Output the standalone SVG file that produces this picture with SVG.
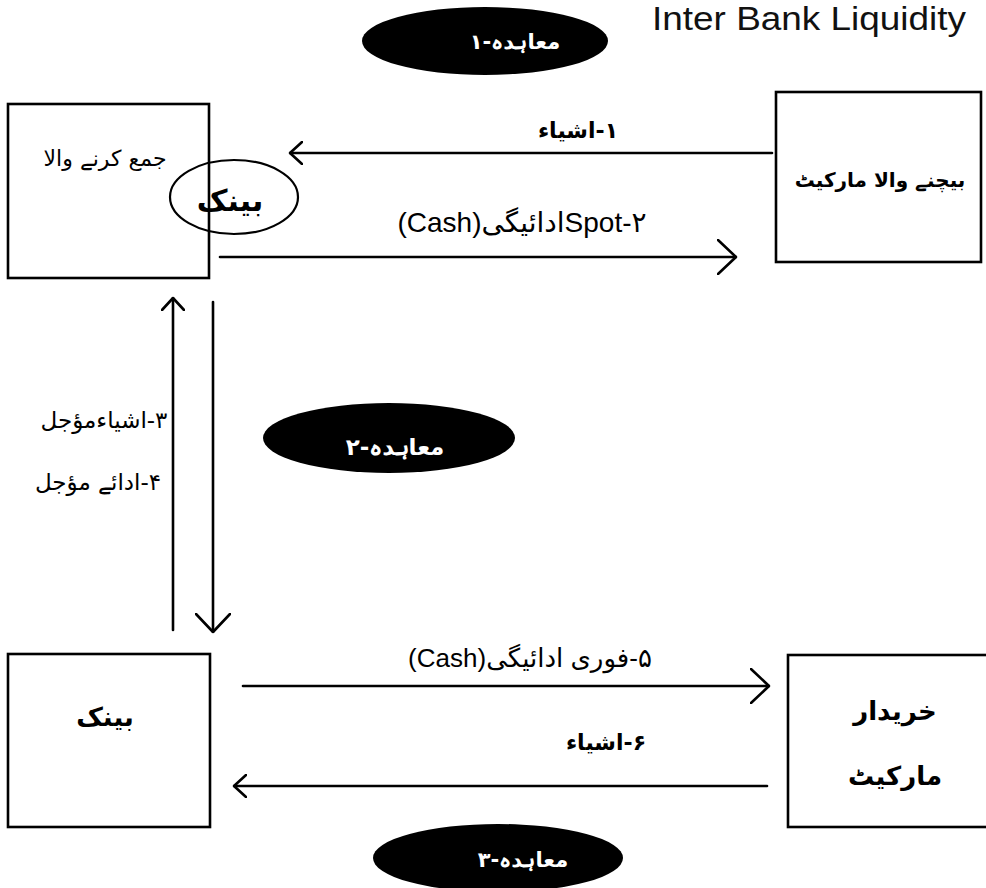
<svg xmlns="http://www.w3.org/2000/svg" width="986" height="888" viewBox="0 0 986 888">
<defs>
<style>
.box{fill:none;stroke:#000;stroke-width:2.6}
.blk{fill:#000}
.ring{fill:none;stroke:#000;stroke-width:2.2}
.ln{fill:none;stroke:#000;stroke-width:2.6;stroke-linecap:round}
.ur{font-family:"DejaVu Sans",sans-serif;fill:#000}
.mx{font-family:"Liberation Sans","DejaVu Sans",sans-serif;fill:#000}
.wt{font-family:"DejaVu Sans",sans-serif;fill:#fff;font-weight:bold}
.ttl{font-family:"Liberation Sans",Arial,sans-serif;fill:#111}
</style>
<marker id="chev-s" viewBox="0 0 14 24" markerUnits="userSpaceOnUse" markerWidth="14" markerHeight="24" refX="13" refY="12" orient="auto">
<path d="M1,1 L13,12 L1,23" fill="none" stroke="#000" stroke-width="2.6" stroke-linecap="round" stroke-linejoin="round"/>
</marker>
<marker id="chev-l" viewBox="0 0 20 36" markerUnits="userSpaceOnUse" markerWidth="20" markerHeight="36" refX="19" refY="18" orient="auto">
<path d="M1,1 L19,18 L1,35" fill="none" stroke="#000" stroke-width="2.6" stroke-linecap="round" stroke-linejoin="round"/>
</marker>
</defs>
<rect width="986" height="888" fill="#fff"/>

<g id="title">
<text class="ttl" x="652" y="30" font-size="33" textLength="314" lengthAdjust="spacingAndGlyphs">Inter Bank Liquidity</text>
</g>

<g id="contract-1">
<ellipse class="blk" cx="485" cy="41" rx="123" ry="34"/>
<text class="wt" x="515" y="49" font-size="21" text-anchor="middle" direction="rtl">معاہدہ-۱</text>
</g>

<g id="collector">
<rect class="box" x="8" y="104" width="201" height="174"/>
<text class="ur" x="105" y="166" font-size="22" text-anchor="middle" direction="rtl">جمع کرنے والا</text>
</g>

<g id="bank-ring">
<ellipse class="ring" cx="234" cy="197" rx="64" ry="37"/>
<text class="ur" x="230" y="211" font-size="30" font-weight="bold" text-anchor="middle" direction="rtl">بینک</text>
</g>

<g id="seller-market">
<rect class="box" x="776" y="92" width="205" height="170"/>
<text class="ur" x="880" y="187" font-size="20" font-weight="bold" text-anchor="middle" direction="rtl">بیچنے والا مارکیٹ</text>
</g>

<g id="contract-2">
<ellipse class="blk" cx="389" cy="438" rx="126" ry="35"/>
<text class="wt" x="395" y="455" font-size="23" text-anchor="middle" direction="rtl">معاہدہ-۲</text>
</g>

<g id="bank">
<rect class="box" x="8" y="654" width="202" height="173"/>
<text class="ur" x="105" y="726" font-size="26" font-weight="bold" text-anchor="middle" direction="rtl">بینک</text>
</g>

<g id="buyer-market">
<rect class="box" x="788" y="655" width="210" height="172"/>
<text class="ur" x="895" y="720" font-size="26" font-weight="bold" text-anchor="middle" direction="rtl">خریدار</text>
<text class="ur" x="895" y="785" font-size="26" font-weight="bold" text-anchor="middle" direction="rtl">مارکیٹ</text>
</g>

<g id="contract-3">
<ellipse class="blk" cx="498" cy="858" rx="125" ry="34"/>
<text class="wt" x="523" y="867" font-size="21" text-anchor="middle" direction="rtl">معاہدہ-۳</text>
</g>

<g id="connectors">
<line class="ln" x1="772" y1="153" x2="290" y2="153" marker-end="url(#chev-s)"/>
<text class="ur" x="578" y="138" font-size="22" font-weight="bold" text-anchor="middle" direction="rtl">۱-اشیاء</text>

<line class="ln" x1="220" y1="257" x2="736" y2="257" marker-end="url(#chev-l)"/>
<text class="mx" x="522" y="232" font-size="28" text-anchor="middle" direction="rtl">Spot-۲ادائیگی(Cash)</text>

<line class="ln" x1="173" y1="630" x2="173" y2="298" marker-end="url(#chev-s)"/>
<line class="ln" x1="213" y1="302" x2="213" y2="632" marker-end="url(#chev-l)"/>
<text class="ur" x="104" y="428" font-size="23" text-anchor="middle" direction="rtl">۳-اشیاءمؤجل</text>
<text class="ur" x="98" y="490" font-size="23" text-anchor="middle" direction="rtl">۴-ادائے مؤجل</text>

<line class="ln" x1="243" y1="686" x2="769" y2="686" marker-end="url(#chev-l)"/>
<text class="mx" x="530" y="667" font-size="26" text-anchor="middle" direction="rtl">۵-فوری ادائیگی(Cash)</text>

<line class="ln" x1="767" y1="786" x2="234" y2="786" marker-end="url(#chev-s)"/>
<text class="ur" x="606" y="750" font-size="22" font-weight="bold" text-anchor="middle" direction="rtl">۶-اشیاء</text>
</g>
</svg>
